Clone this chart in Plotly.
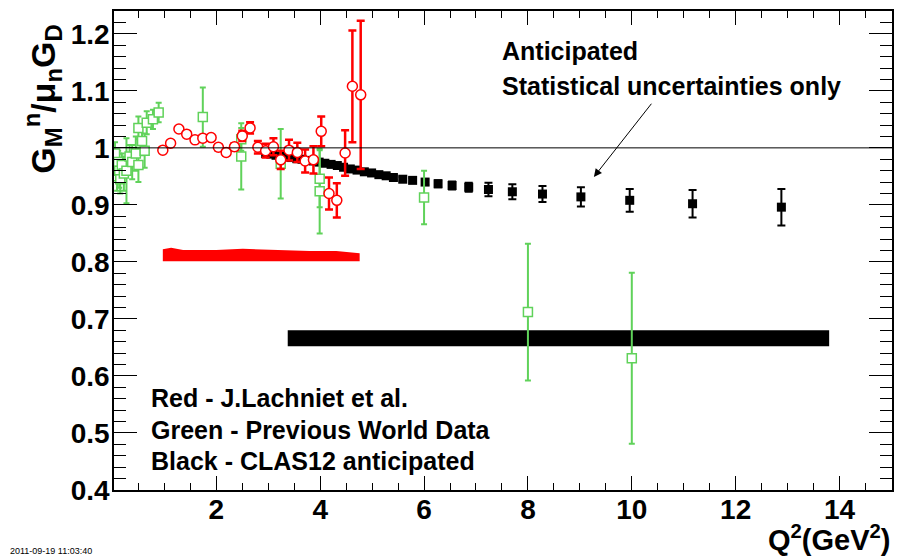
import plotly.graph_objects as go

# ---- data ----
red_x = [0.97, 1.12, 1.28, 1.43, 1.59, 1.74, 1.90, 2.04, 2.19, 2.35, 2.50, 2.65, 2.80,
         2.95, 3.10, 3.24, 3.40, 3.56, 3.71, 3.87, 4.02, 4.17, 4.32, 4.48, 4.62, 4.78]
red_y = [0.996, 1.008, 1.033, 1.024, 1.014, 1.017, 1.018, 1.001, 0.992, 1.002, 1.021, 1.035, 1.001,
         0.995, 1.002, 0.979, 0.996, 0.992, 0.977, 0.979, 1.029, 0.920, 0.908, 0.991, 1.108, 1.093]
red_err = [0.004, 0.004, 0.004, 0.004, 0.004, 0.004, 0.004, 0.005, 0.005, 0.006, 0.009, 0.010, 0.011,
           0.012, 0.015, 0.016, 0.018, 0.017, 0.020, 0.024, 0.026, 0.028, 0.030, 0.040, 0.098, 0.130]

green_x = [0.05, 0.07, 0.09, 0.11, 0.13, 0.15, 0.18, 0.22, 0.27, 0.33, 0.38, 0.45, 0.50, 0.50,
           0.57, 0.62, 0.66, 0.78, 0.89, 1.74, 2.48, 2.48, 3.24, 3.99, 3.99, 6.00, 8.00, 10.00]
green_y = [0.990, 0.965, 0.950, 0.975, 0.960, 0.945, 0.970, 0.955, 0.960, 0.985, 0.975, 0.990, 0.970, 1.035,
           1.012, 0.995, 1.044, 1.050, 1.062, 1.054, 1.015, 0.985, 0.972, 0.946, 0.924, 0.913, 0.712, 0.631]
green_err = [0.020, 0.020, 0.025, 0.020, 0.030, 0.025, 0.020, 0.030, 0.057, 0.020, 0.030, 0.030, 0.030, 0.020,
             0.025, 0.030, 0.020, 0.017, 0.017, 0.052, 0.020, 0.058, 0.061, 0.050, 0.074, 0.047, 0.120, 0.150]

black_x = [2.95, 3.05, 3.15, 3.25, 3.35, 3.45, 3.55, 3.65, 3.76, 3.87, 3.98, 4.09, 4.21, 4.33, 4.45,
           4.58, 4.71, 4.85, 4.99, 5.13, 5.27, 5.41, 5.59, 5.78, 6.02, 6.27, 6.54, 6.86, 7.24, 7.70,
           8.28, 9.02, 9.96, 11.17, 12.88]
black_y = [0.990, 0.989, 0.987, 0.986, 0.984, 0.983, 0.981, 0.980, 0.978, 0.977, 0.975, 0.973, 0.971, 0.969, 0.966,
           0.963, 0.961, 0.958, 0.956, 0.953, 0.951, 0.948, 0.945, 0.943, 0.940, 0.937, 0.934, 0.931, 0.927, 0.923,
           0.919, 0.914, 0.908, 0.902, 0.896]
black_err = [0.002, 0.002, 0.002, 0.002, 0.002, 0.002, 0.002, 0.002, 0.002, 0.002, 0.003, 0.003, 0.003, 0.003, 0.003,
             0.003, 0.003, 0.003, 0.003, 0.003, 0.004, 0.004, 0.004, 0.004, 0.005, 0.006, 0.007, 0.008, 0.012, 0.013,
             0.014, 0.017, 0.020, 0.024, 0.032]

# systematic bands
red_band_x = [0.97, 1.13, 1.36, 2.00, 2.51, 3.16, 3.80, 4.31, 4.57, 4.76]
red_band_top = [0.822, 0.825, 0.821, 0.821, 0.823, 0.821, 0.819, 0.819, 0.816, 0.815]
red_band_base = 0.801
black_band_x = [3.375, 13.80]
black_band_lo = 0.652
black_band_hi = 0.680

GREEN = "rgb(96,210,90)"
FONT = "Liberation Sans, Arial, Helvetica, sans-serif"

fig = go.Figure()

# red band
fig.add_trace(go.Scatter(
    x=red_band_x + red_band_x[::-1],
    y=red_band_top + [red_band_base] * len(red_band_x),
    fill="toself", fillcolor="red", line=dict(width=0, color="red"),
    mode="lines", hoverinfo="skip", showlegend=False))
# black band
fig.add_trace(go.Scatter(
    x=[black_band_x[0], black_band_x[1], black_band_x[1], black_band_x[0]],
    y=[black_band_lo, black_band_lo, black_band_hi, black_band_hi],
    fill="toself", fillcolor="black", line=dict(width=0, color="black"),
    mode="lines", hoverinfo="skip", showlegend=False))

# black anticipated
fig.add_trace(go.Scatter(
    x=black_x, y=black_y, mode="markers",
    marker=dict(symbol="square", size=9, color="black"),
    error_y=dict(type="data", array=black_err, color="black", thickness=2, width=4),
    showlegend=False))
# green world data
fig.add_trace(go.Scatter(
    x=green_x, y=green_y, mode="markers",
    marker=dict(symbol="square", size=9, color="white", line=dict(color=GREEN, width=1.5)),
    error_y=dict(type="data", array=green_err, color=GREEN, thickness=2, width=3),
    showlegend=False))
# red Lachniet
fig.add_trace(go.Scatter(
    x=red_x, y=red_y, mode="markers",
    marker=dict(symbol="circle", size=10, color="white", line=dict(color="red", width=1.5)),
    error_y=dict(type="data", array=red_err, color="red", thickness=2.5, width=4),
    showlegend=False))

# y = 1 line
fig.add_shape(type="line", xref="paper", yref="y", x0=0, x1=1, y0=1, y1=1,
              line=dict(color="black", width=1))

axis_common = dict(showgrid=False, zeroline=False, showline=True, linecolor="black", linewidth=1.5,
                   mirror="ticks", ticks="inside", tickcolor="black",
                   tickfont=dict(family=FONT, size=28, color="black", weight="bold"))

fig.update_xaxes(range=[0.03, 15.01], tickvals=[2, 4, 6, 8, 10, 12, 14], ticklen=14, tickwidth=1,
                 ticklabelstandoff=-6,
                 minor=dict(dtick=0.5, tick0=0, ticklen=7, ticks="inside", tickcolor="black", tickwidth=1),
                 **axis_common)
fig.update_yaxes(range=[0.4, 1.24], tickvals=[0.4, 0.5, 0.6, 0.7, 0.8, 0.9, 1.0, 1.1, 1.2],
                 ticktext=["0.4", "0.5", "0.6", "0.7", "0.8", "0.9", "1", "1.1", "1.2"],
                 ticklen=23, tickwidth=1, ticklabelstandoff=-3,
                 minor=dict(dtick=0.02, tick0=0.4, ticklen=12, ticks="inside", tickcolor="black", tickwidth=1),
                 **axis_common)

txt = dict(family=FONT, size=25, color="black", weight="bold")
ann = [
    dict(x=7.46, y=1.169, xref="x", yref="y", text="Anticipated", showarrow=False,
         xanchor="left", yanchor="middle", font=txt),
    dict(x=7.46, y=1.108, xref="x", yref="y", text="Statistical uncertainties only", showarrow=False,
         xanchor="left", yanchor="middle", font=txt),
    dict(x=0.70, y=0.562, xref="x", yref="y", text="Red - J.Lachniet et al.", showarrow=False,
         xanchor="left", yanchor="middle", font=txt),
    dict(x=0.70, y=0.506, xref="x", yref="y", text="Green - Previous World Data", showarrow=False,
         xanchor="left", yanchor="middle", font=txt),
    dict(x=0.70, y=0.451, xref="x", yref="y", text="Black - CLAS12 anticipated", showarrow=False,
         xanchor="left", yanchor="middle", font=txt),
    dict(x=9.27, y=0.949, ax=10.40, ay=1.080, xref="x", yref="y", axref="x", ayref="y",
         text="", showarrow=True, arrowhead=2, arrowsize=1.6, arrowwidth=1, arrowcolor="black"),
    dict(x=-0.0925, y=0.815, xref="paper", yref="paper", textangle=-90, showarrow=False,
         text="G<sub>M</sub><sup>n</sup>/μ<sub>n</sub>G<sub>D</sub>",
         xanchor="center", yanchor="middle", font=dict(family=FONT, size=34, color="black", weight="bold")),
    dict(x=1.0, y=-0.100, xref="paper", yref="paper", showarrow=False,
         text="Q<sup>2</sup>(GeV<sup>2</sup>)", xanchor="right", yanchor="middle",
         font=dict(family=FONT, size=29, color="black", weight="bold")),
    dict(x=-0.136, y=-0.127, xref="paper", yref="paper", showarrow=False,
         text="2011-09-19 11:03:40", xanchor="left", yanchor="middle",
         font=dict(family=FONT, size=9, color="black")),
]
fig.update_layout(
    width=900, height=551, autosize=False,
    margin=dict(l=106, r=16, t=1, b=69),
    paper_bgcolor="white", plot_bgcolor="white",
    annotations=ann, showlegend=False,
)

fig.write_html("out.html")
